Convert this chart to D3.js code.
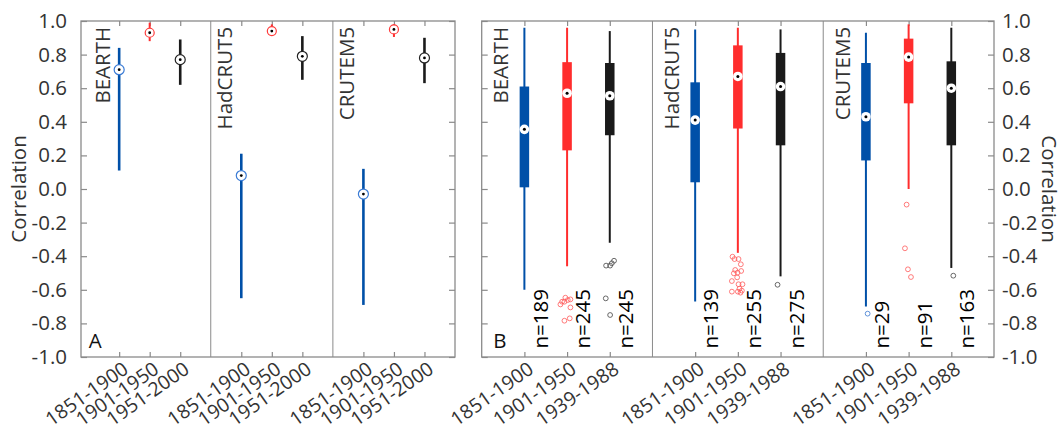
<!DOCTYPE html>
<html>
<head>
<meta charset="utf-8">
<script src="https://cdn.jsdelivr.net/npm/d3@7"></script>
<style>
  body { margin: 0; background: white; }
  text { font-family: "Open Sans", "Noto Sans", sans-serif; }
</style>
</head>
<body>
<div id="chart"></div>
<script>
const width = 1064;
const height = 433;

// data
const datasets = ["BEARTH", "HadCRUT5", "CRUTEM5"];
const periodsA = ["1851-1900", "1901-1950", "1951-2000"];
const periodsB = ["1851-1900", "1901-1950", "1939-1988"];
const colors = ["#0050a8", "#ff2d2d", "#1a1a1a"];
const markerColors = ["#3a7bd5", "#ff3b3b", "#222222"];
const outlierColors = ["#3a78d0", "#ff5a5a", "#444444"];

// panel A: correlation and range, rows = datasets, cols = periods
const medianA = [[0.71, 0.93, 0.77], [0.08, 0.94, 0.79], [-0.03, 0.95, 0.78]];
const lowA = [[0.11, 0.88, 0.62], [-0.65, 0.915, 0.65], [-0.69, 0.905, 0.63]];
const highA = [[0.84, 0.99, 0.89], [0.21, 0.98, 0.91], [0.12, 0.98, 0.90]];

// panel B: box plots
const whiskerLowB = [[-0.60, -0.46, -0.32], [-0.67, -0.38, -0.52], [-0.70, 0.00, -0.47]];
const q1B = [[0.01, 0.23, 0.32], [0.04, 0.36, 0.26], [0.17, 0.51, 0.26]];
const medianB = [[0.355, 0.57, 0.555], [0.41, 0.67, 0.61], [0.43, 0.785, 0.60]];
const q3B = [[0.61, 0.755, 0.75], [0.635, 0.855, 0.81], [0.75, 0.895, 0.76]];
const whiskerHighB = [[0.96, 0.96, 0.94], [0.95, 0.96, 0.95], [0.93, 0.98, 0.96]];
const countB = [[189, 245, 245], [139, 255, 275], [29, 91, 163]];
// outliers: [jitter in category units, value]
const outliersB = [
  [
    [],
    [[-0.04, -0.647], [0.016, -0.661], [0.078, -0.657], [-0.117, -0.671], [-0.062, -0.671],
     [-0.156, -0.687], [0.078, -0.705], [0.062, -0.77], [-0.062, -0.784]],
    [[-0.086, -0.456], [0.008, -0.456], [0.1, -0.427], [0.047, -0.442], [-0.094, -0.651], [0.008, -0.75]]
  ],
  [
    [],
    [[-0.125, -0.403], [-0.078, -0.417], [0.016, -0.417], [0.07, -0.448], [-0.062, -0.482],
     [-0.008, -0.498], [0.078, -0.488], [-0.094, -0.502], [-0.016, -0.526], [-0.14, -0.548],
     [0.016, -0.567], [0.109, -0.567], [0.039, -0.593], [-0.14, -0.611], [0, -0.611],
     [0.062, -0.617], [0.094, -0.605]],
    [[-0.07, -0.57]]
  ],
  [
    [[0.04, -0.742]],
    [[-0.047, -0.093], [-0.086, -0.353], [-0.016, -0.478], [0.055, -0.524]],
    [[0.047, -0.516]]
  ]
];

const yTicks = [-1, -0.8, -0.6, -0.4, -0.2, 0, 0.2, 0.4, 0.6, 0.8, 1];
const frameColor = "#8a8a8a";
const textColor = "#333333";
const fontSize = "20.5px";

const svg = d3.select("#chart").append("svg")
    .attr("width", width)
    .attr("height", height);

const yScale = d3.scaleLinear()
    .domain([-1, 1])
    .range([357, 21]);

const xA = d3.scaleLinear().domain([-0.25, 12]).range([81, 455]);
const xB = d3.scaleLinear().domain([0, 12]).range([481.7, 994]);

const pos = (d, p) => 4 * d + p + 1;
const catPositions = d3.merge(datasets.map((_, d) => [0, 1, 2].map(p => pos(d, p))));

function drawFrame(xScale, periods, labelSide, letter) {
  const g = svg.append("g");
  const [x0, x1] = xScale.range();
  const [y0, y1] = [yScale(1), yScale(-1)];

  // dividers between datasets
  g.selectAll(".divider")
    .data([4, 8])
    .join("line")
      .attr("class", "divider")
      .attr("x1", d => xScale(d))
      .attr("x2", d => xScale(d))
      .attr("y1", y0)
      .attr("y2", y1)
      .attr("stroke", frameColor)
      .attr("stroke-width", 1);

  const left = g.append("g")
      .attr("transform", `translate(${x0},0)`)
      .call(d3.axisLeft(yScale).tickValues(yTicks).tickSize(-6).tickPadding(14)
        .tickFormat(d => labelSide === "left" ? d.toFixed(1) : ""));
  const right = g.append("g")
      .attr("transform", `translate(${x1},0)`)
      .call(d3.axisRight(yScale).tickValues(yTicks).tickSize(-6).tickPadding(8)
        .tickFormat(d => labelSide === "right" ? d.toFixed(1) : ""));
  const top = g.append("g")
      .attr("transform", `translate(0,${y0})`)
      .call(d3.axisTop(xScale).tickValues(catPositions).tickSize(-5).tickFormat(""));
  const bottom = g.append("g")
      .attr("transform", `translate(0,${y1})`)
      .call(d3.axisBottom(xScale).tickValues(catPositions).tickSize(-5)
        .tickFormat(v => periods[(v - 1) % 4]));

  [left, right, top, bottom].forEach(a => {
    a.selectAll(".domain").remove();
    a.selectAll(".tick line").attr("stroke", frameColor).attr("stroke-width", 1.2);
    a.selectAll(".tick text")
      .attr("fill", textColor)
      .style("font-size", fontSize);
  });

  bottom.selectAll(".tick text")
    .attr("text-anchor", "end")
    .attr("x", 0)
    .attr("y", 0)
    .attr("dy", 0)
    .style("font-size", "19.5px")
    .attr("transform", "translate(10,15) rotate(-35)");

  g.append("rect")
    .attr("x", x0)
    .attr("y", y0)
    .attr("width", x1 - x0)
    .attr("height", y1 - y0)
    .attr("fill", "none")
    .attr("stroke", frameColor)
    .attr("stroke-width", 1.3);

  // dataset names
  g.selectAll(".title")
    .data(datasets)
    .join("text")
      .attr("class", "title")
      .attr("transform", (_, d) => `translate(${xScale(4 * d + 0.45)},${yScale(0.965)}) rotate(-90)`)
      .attr("text-anchor", "end")
      .attr("dy", "0.36em")
      .attr("fill", textColor)
      .style("font-size", fontSize)
      .text(d => d);

  g.append("text")
    .attr("x", xScale(labelSide === "left" ? 0.0 : 0.27))
    .attr("y", yScale(-0.945))
    .attr("fill", "#111")
    .style("font-size", fontSize)
    .text(letter);

  return g;
}

// ---- panel A ----
const panelA = drawFrame(xA, periodsA, "left", "A");

const cellsA = d3.merge(datasets.map((_, d) => [0, 1, 2].map(p => ({
  d, p,
  med: medianA[d][p],
  low: lowA[d][p],
  high: highA[d][p]
}))));

panelA.selectAll(".range")
  .data(cellsA)
  .join("line")
    .attr("class", "range")
    .attr("x1", c => xA(pos(c.d, c.p)))
    .attr("x2", c => xA(pos(c.d, c.p)))
    .attr("y1", c => yScale(c.low))
    .attr("y2", c => yScale(c.high))
    .attr("stroke", c => colors[c.p])
    .attr("stroke-width", c => c.p === 1 ? 2 : 2.6);

panelA.selectAll(".marker")
  .data(cellsA)
  .join("circle")
    .attr("class", "marker")
    .attr("cx", c => xA(pos(c.d, c.p)))
    .attr("cy", c => yScale(c.med))
    .attr("r", c => c.p === 1 ? 4.5 : 5)
    .attr("fill", "white")
    .attr("stroke", c => markerColors[c.p])
    .attr("stroke-width", 1.2);

panelA.selectAll(".dot")
  .data(cellsA)
  .join("circle")
    .attr("class", "dot")
    .attr("cx", c => xA(pos(c.d, c.p)))
    .attr("cy", c => yScale(c.med))
    .attr("r", 1.4)
    .attr("fill", "black");

svg.append("text")
  .attr("transform", `translate(26,${yScale(0)}) rotate(-90)`)
  .attr("text-anchor", "middle")
  .attr("fill", textColor)
  .style("font-size", fontSize)
  .text("Correlation");

// ---- panel B ----
const panelB = drawFrame(xB, periodsB, "right", "B");

const cellsB = d3.merge(datasets.map((_, d) => [0, 1, 2].map(p => ({
  d, p,
  lo: whiskerLowB[d][p],
  q1: q1B[d][p],
  med: medianB[d][p],
  q3: q3B[d][p],
  hi: whiskerHighB[d][p],
  n: countB[d][p],
  out: outliersB[d][p]
}))));

panelB.selectAll(".whisker")
  .data(cellsB)
  .join("line")
    .attr("class", "whisker")
    .attr("x1", c => xB(pos(c.d, c.p)))
    .attr("x2", c => xB(pos(c.d, c.p)))
    .attr("y1", c => yScale(c.lo))
    .attr("y2", c => yScale(c.hi))
    .attr("stroke", c => colors[c.p])
    .attr("stroke-width", 2);

panelB.selectAll(".box")
  .data(cellsB)
  .join("rect")
    .attr("class", "box")
    .attr("x", c => xB(pos(c.d, c.p)) - 4.75)
    .attr("width", 9.5)
    .attr("y", c => yScale(c.q3))
    .attr("height", c => yScale(c.q1) - yScale(c.q3))
    .attr("fill", c => colors[c.p]);

panelB.selectAll(".marker")
  .data(cellsB)
  .join("circle")
    .attr("class", "marker")
    .attr("cx", c => xB(pos(c.d, c.p)))
    .attr("cy", c => yScale(c.med))
    .attr("r", 4.8)
    .attr("fill", "white");

panelB.selectAll(".dot")
  .data(cellsB)
  .join("circle")
    .attr("class", "dot")
    .attr("cx", c => xB(pos(c.d, c.p)))
    .attr("cy", c => yScale(c.med))
    .attr("r", 1.5)
    .attr("fill", "black");

const outPoints = d3.merge(cellsB.map(c => c.out.map(o => ({ c, jitter: o[0], v: o[1] }))));

panelB.selectAll(".outlier")
  .data(outPoints)
  .join("circle")
    .attr("class", "outlier")
    .attr("cx", o => xB(pos(o.c.d, o.c.p) + o.jitter))
    .attr("cy", o => yScale(o.v))
    .attr("r", 2.4)
    .attr("fill", "none")
    .attr("stroke", o => outlierColors[o.c.p])
    .attr("stroke-width", 0.8);

panelB.selectAll(".count")
  .data(cellsB)
  .join("text")
    .attr("class", "count")
    .attr("transform", c => `translate(${xB(pos(c.d, c.p) + 0.37)},${yScale(-0.95)}) rotate(-90)`)
    .attr("dy", "0.36em")
    .attr("fill", "black")
    .style("font-size", fontSize)
    .text(c => `n=${c.n}`);

svg.append("text")
  .attr("transform", `translate(1042,${yScale(0)}) rotate(90)`)
  .attr("text-anchor", "middle")
  .attr("fill", textColor)
  .style("font-size", fontSize)
  .text("Correlation");
</script>
</body>
</html>
